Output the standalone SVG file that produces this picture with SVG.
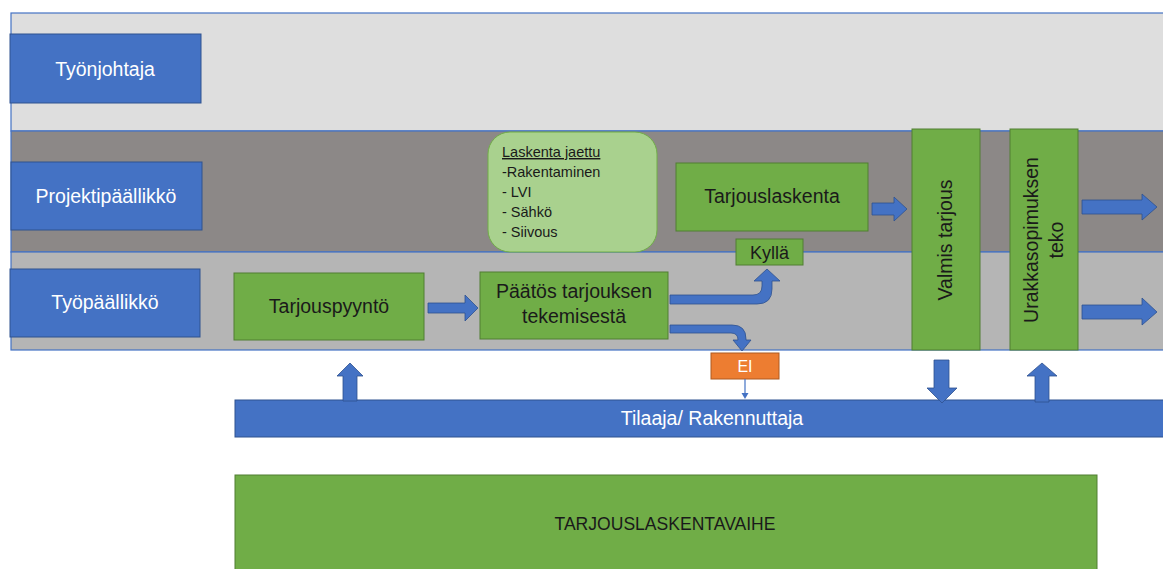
<svg xmlns="http://www.w3.org/2000/svg" width="1163" height="569" viewBox="0 0 1163 569">
  <style>
    .lane { stroke: #4472C4; stroke-width: 1.2; }
    .role { fill: #4472C4; stroke: #2F528F; stroke-width: 1; }
    .step { fill: #70AD47; stroke: #507E32; stroke-width: 1; }
    .note { fill: #A9D18E; stroke: #70AD47; stroke-width: 1; }
    .no { fill: #ED7D31; stroke: #AE5A21; stroke-width: 1; }
    .arrow { fill: #4472C4; stroke: #2F528F; stroke-width: 0.8; }
    text { font-family: "Liberation Sans", Arial, sans-serif; }
    .w { fill: #FFFFFF; font-size: 19.5px; text-anchor: middle; }
    .k { fill: #1A1A1A; font-size: 19.5px; text-anchor: middle; }
    .s { fill: #1A1A1A; font-size: 14.5px; }
  </style>

  <!-- swim lanes -->
  <g id="lanes">
    <rect class="lane" x="11" y="13" width="1160" height="118" fill="#DEDEDE"/>
    <rect class="lane" x="11" y="131" width="1160" height="121" fill="#8C8887"/>
    <rect class="lane" x="11" y="252" width="1160" height="98" fill="#B5B5B5"/>
  </g>

  <!-- role labels -->
  <g id="tyonjohtaja">
    <rect class="role" x="10" y="34" width="191" height="69"/>
    <text class="w" x="105" y="76">Työnjohtaja</text>
  </g>
  <g id="projektipaallikko">
    <rect class="role" x="11" y="162" width="191" height="68"/>
    <text class="w" x="106" y="203">Projektipäällikkö</text>
  </g>
  <g id="tyopaallikko">
    <rect class="role" x="10" y="269" width="190" height="68"/>
    <text class="w" x="105" y="309">Työpäällikkö</text>
  </g>

  <!-- process steps -->
  <g id="tarjouspyynto">
    <rect class="step" x="234" y="273" width="190" height="67"/>
    <text class="k" x="329" y="313">Tarjouspyyntö</text>
  </g>
  <g id="paatos">
    <rect class="step" x="480" y="272" width="188" height="67"/>
    <text class="k" x="574" y="298">Päätös tarjouksen</text>
    <text class="k" x="574" y="323">tekemisestä</text>
  </g>
  <g id="laskenta-jaettu">
    <rect class="note" x="488" y="132" width="169" height="120" rx="22"/>
    <text class="s" x="502" y="157" text-decoration="underline">Laskenta jaettu</text>
    <text class="s" x="502" y="177">-Rakentaminen</text>
    <text class="s" x="502" y="197">- LVI</text>
    <text class="s" x="502" y="217">- Sähkö</text>
    <text class="s" x="502" y="237">- Siivous</text>
  </g>
  <g id="tarjouslaskenta">
    <rect class="step" x="676" y="163" width="192" height="68"/>
    <text class="k" x="772" y="203">Tarjouslaskenta</text>
  </g>
  <g id="kylla">
    <rect class="step" x="736" y="239" width="67" height="26"/>
    <text class="k" x="769.5" y="259" style="font-size:18px">Kyllä</text>
  </g>
  <g id="ei">
    <rect class="no" x="711" y="353" width="68" height="26"/>
    <text class="w" x="745" y="372" style="font-size:16px">EI</text>
  </g>
  <g id="valmis-tarjous">
    <rect class="step" x="912" y="129" width="68" height="221"/>
    <text class="k" transform="translate(952,240) rotate(-90)">Valmis tarjous</text>
  </g>
  <g id="urakkasopimus">
    <rect class="step" x="1010" y="129" width="68" height="221"/>
    <text class="k" transform="translate(1038,240) rotate(-90)">Urakkasopimuksen</text>
    <text class="k" transform="translate(1063,240) rotate(-90)">teko</text>
  </g>
  <g id="tilaaja">
    <rect class="role" x="235" y="400" width="935" height="37"/>
    <text class="w" x="712" y="425">Tilaaja/ Rakennuttaja</text>
  </g>
  <g id="vaihe">
    <rect class="step" x="235" y="475" width="862" height="100"/>
    <text class="k" x="665" y="530" style="font-size:18px" textLength="221" lengthAdjust="spacingAndGlyphs">TARJOUSLASKENTAVAIHE</text>
  </g>

  <!-- connectors -->
  <g id="connectors">
    <!-- Tarjouspyyntö -> Päätös -->
    <path class="arrow" d="M428,303 L465,303 L465,295 L478,308 L465,321 L465,313 L428,313 Z"/>
    <!-- Tarjouslaskenta -> Valmis tarjous -->
    <path class="arrow" d="M872,203 L894,203 L894,197 L907,209 L894,221 L894,215 L872,215 Z"/>
    <!-- Urakkasopimus -> onwards -->
    <path class="arrow" d="M1082,200 L1142,200 L1142,194 L1157,207 L1142,220 L1142,214 L1082,214 Z"/>
    <path class="arrow" d="M1082,305 L1142,305 L1142,298 L1157,312 L1142,325 L1142,319 L1082,319 Z"/>
    <!-- Päätös -> Kyllä -->
    <path class="arrow" d="M670,295 L753,295 Q762,295 762,286 L762,281 L754,281 L767,269 L780,281 L772,281 L772,289 Q772,304 757,304 L670,304 Z"/>
    <!-- Päätös -> EI -->
    <path class="arrow" d="M670,325 L732,325 Q746,325 746,339 L746,340 L751,340 L742,351 L733,340 L738,340 Q738,333 731,333 L670,333 Z"/>
    <!-- EI -> Tilaaja -->
    <line x1="745" y1="379" x2="745" y2="394" stroke="#4472C4" stroke-width="1.2"/>
    <path d="M741.5,393 L748.5,393 L745,399 Z" fill="#4472C4"/>
    <!-- Tilaaja -> Tarjouspyyntö -->
    <path class="arrow" d="M343,401 L343,376 L337,376 L350,363 L363,376 L357,376 L357,401 Z"/>
    <!-- Valmis tarjous -> Tilaaja -->
    <path class="arrow" d="M934,360 L949,360 L949,388 L957,388 L942,403 L927,388 L934,388 Z"/>
    <!-- Tilaaja -> Urakkasopimus -->
    <path class="arrow" d="M1035,402 L1035,376 L1027,376 L1042,363 L1057,376 L1049,376 L1049,402 Z"/>
  </g>
</svg>
